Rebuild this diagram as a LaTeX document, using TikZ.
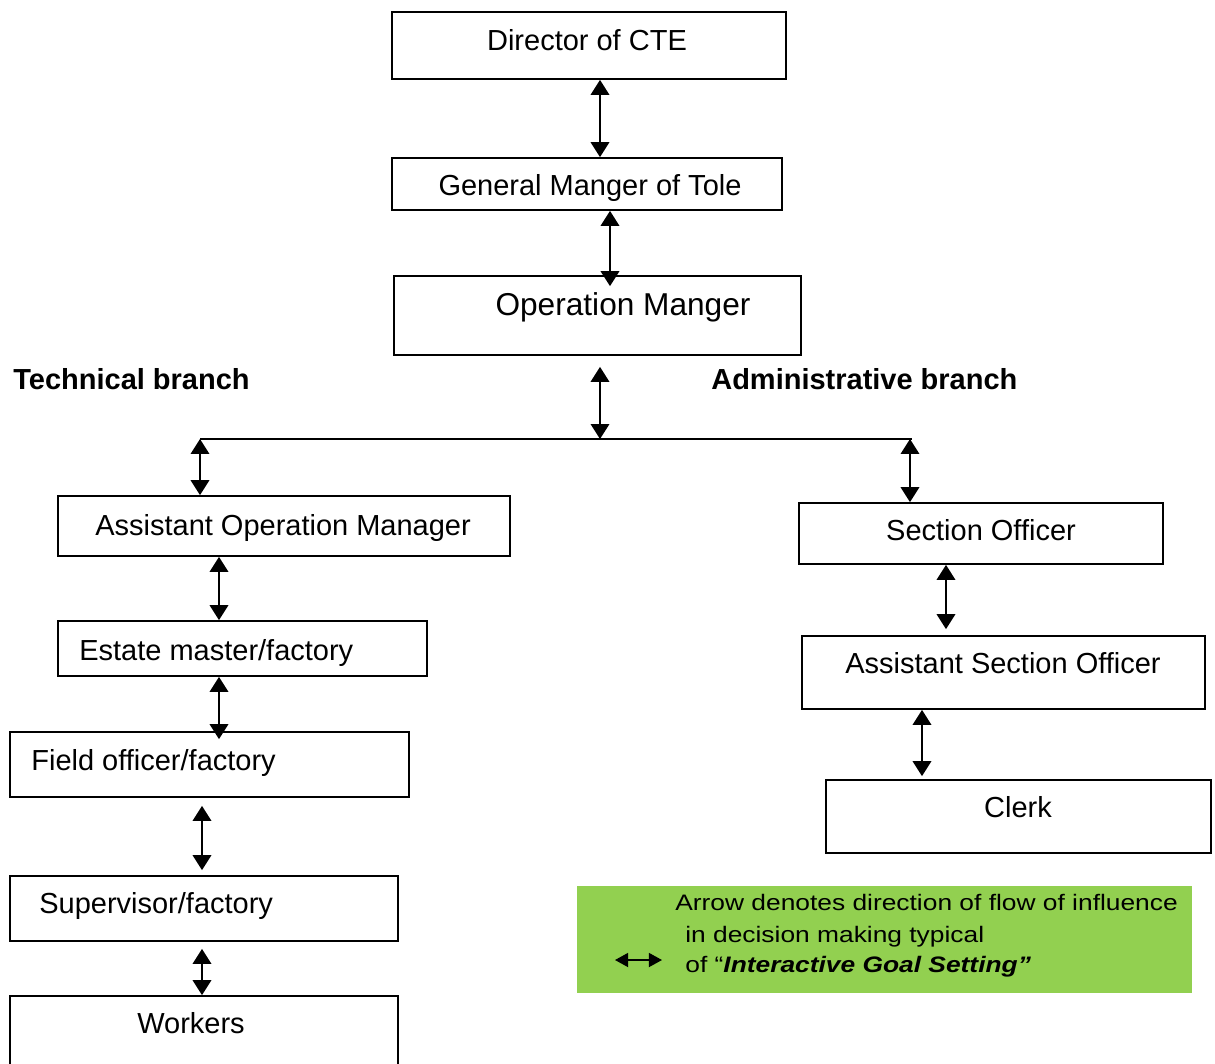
\documentclass[tikz,border=0pt]{standalone}
\usepackage{fontspec}
\setmainfont{Liberation Sans}
\usetikzlibrary{fit,arrows.meta}
\definecolor{leafgreen}{HTML}{92D050}
\newcommand{\boxfont}{\fontsize{16.5}{19}\selectfont}
\newcommand{\keyfont}{\fontsize{15}{17}\selectfont}

\begin{document}
\begin{tikzpicture}[x=0.02cm,y=-0.02cm,
  post/.style={draw,line width=1pt,inner sep=0pt},
  caption/.style={inner sep=0pt,font=\boxfont},
  branch/.style={inner sep=0pt,anchor=base west,font=\boxfont\bfseries},
  keyline/.style={inner sep=0pt,anchor=base west,font=\keyfont},
  link/.style={{Triangle[width=10.5pt,length=8.5pt]}-{Triangle[width=10.5pt,length=8.5pt]},line width=1.1pt}]
\useasboundingbox (0,0) rectangle (1215,1063);

% top of the chain
\node[post,fit={(392,12) (786,79)}] (dir) {};
\node[caption,anchor=base] (dirt) at (587,50) {Director of CTE};
\node[post,fit={(392,158) (782,210)}] (gm) {};
\node[caption,anchor=base] (gmt) at (590,195) {General Manger of Tole};
\node[post,fit={(394,276) (801,355)}] (om) {};
\node[caption,anchor=base,font=\fontsize{18}{21}\selectfont] (omt) at (623,315) {Operation Manger};

\node[branch] (tech) at (13,389) {Technical branch};
\node[branch] (admin) at (711,389) {Administrative branch};

% the bar
\coordinate (jl) at (200,439);
\coordinate (j) at (600,439);
\coordinate (jr) at (912,439);
\draw[line width=1pt] (jl) -- (jr);

% lanes for the links
\coordinate (x1) at (610,0);
\coordinate (x2) at (219,0);
\coordinate (x3) at (202,0);
\coordinate (x4) at (910,0);
\coordinate (x5) at (946,0);
\coordinate (x6) at (922,0);

% technical branch
\node[post,fit={(58,496) (510,556)}] (aom) {};
\node[caption,anchor=base west] (aomt) at (95,535) {Assistant Operation Manager};
\node[post,fit={(58,621) (427,676)}] (est) {};
\node[caption,anchor=base west] (estt) at (79,660) {Estate master/factory};
\node[post,fit={(10,732) (409,797)}] (fld) {};
\node[caption,anchor=base west] (fldt) at (31,770) {Field officer/factory};
\node[post,fit={(10,876) (398,941)}] (sup) {};
\node[caption,anchor=base west] (supt) at (39,913) {Supervisor/factory};
\node[post,fit={(10,996) (398,1080)}] (wrk) {};
\node[caption,anchor=base] (wrkt) at (191,1033) {Workers};

% administrative branch
\node[post,fit={(799,503) (1163,564)}] (so) {};
\node[caption,anchor=base] (sot) at (981,540) {Section Officer};
\node[post,fit={(802,636) (1205,709)}] (aso) {};
\node[caption,anchor=base] (asot) at (1003,673) {Assistant Section Officer};
\node[post,fit={(826,780) (1211,853)}] (clk) {};
\node[caption,anchor=base] (clkt) at (1018,817) {Clerk};

% links
\draw[link] (dir.south -| j) -- (gm.north -| j);
\draw[link,shorten >=-0.22cm] (gm.south -| x1) -- (om.north -| x1);
\draw[link,shorten <=0.22cm] (om.south -| j) -- (j);
\draw[link] (jl) -- (aom.north -| jl);
\draw[link] (aom.south -| x2) -- (est.north -| x2);
\draw[link,shorten >=-0.16cm] (est.south -| x2) -- (fld.north -| x2);
\draw[link,shorten <=0.16cm,shorten >=0.1cm] (fld.south -| x3) -- (sup.north -| x3);
\draw[link,shorten <=0.14cm] (sup.south -| x3) -- (wrk.north -| x3);
\draw[link] (jr -| x4) -- (so.north -| x4);
\draw[link,shorten >=0.12cm] (so.south -| x5) -- (aso.north -| x5);
\draw[link,shorten >=0.06cm] (aso.south -| x6) -- (clk.north -| x6);

% key
\node[fill=leafgreen,inner sep=0pt,fit={(577,886) (1192,993)}] (key) {};
\node[keyline] (key1) at (675,910) {\scalebox{1}[0.85]{Arrow denotes direction of flow of influence}};
\node[keyline] (key2) at (685,942) {\scalebox{1}[0.85]{in decision making typical}};
\node[keyline] (key3) at (685,972) {\scalebox{1}[0.85]{of “\textbf{\textit{Interactive Goal Setting”}}}};
\coordinate (ka) at (615,960);
\coordinate (kb) at (662,960);
\draw[{Triangle[width=8pt,length=7.5pt]}-{Triangle[width=8pt,length=7.5pt]},line width=1pt] (ka) -- (kb);
\end{tikzpicture}
\end{document}
